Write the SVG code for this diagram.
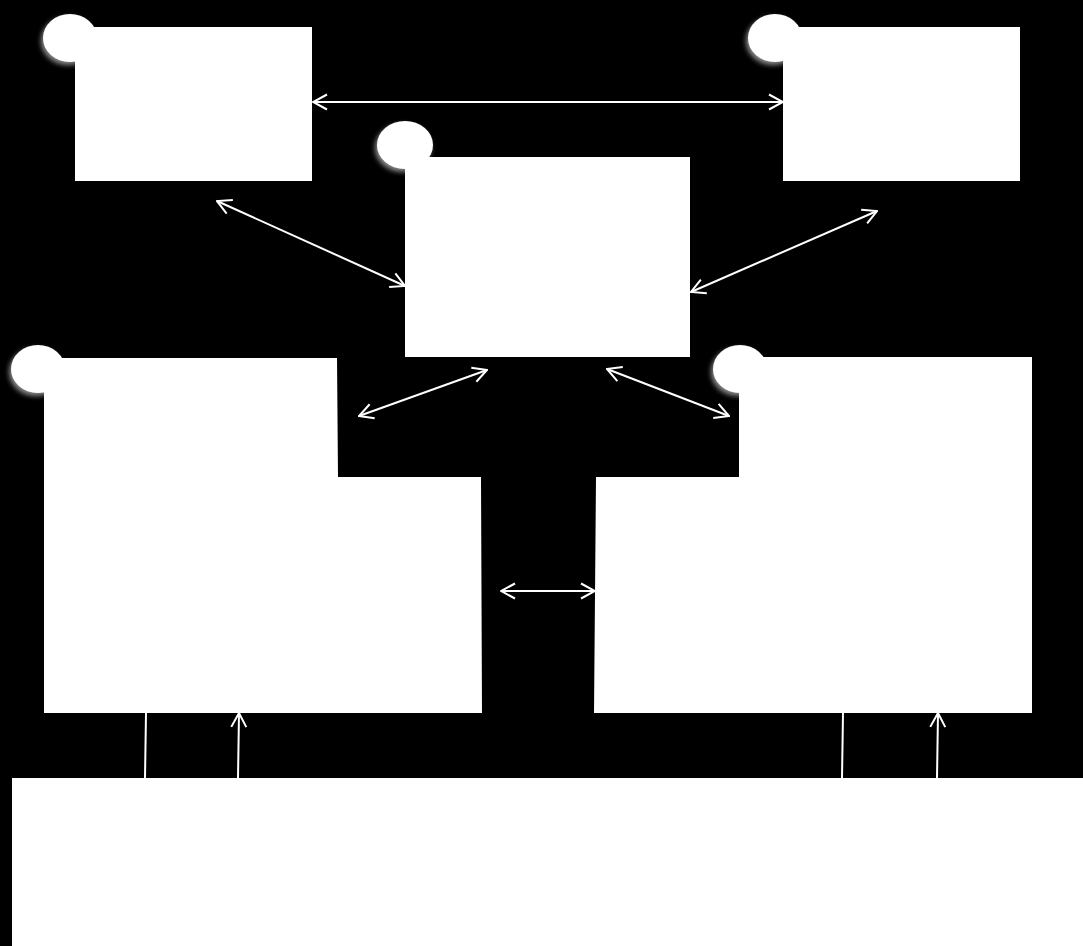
<svg xmlns="http://www.w3.org/2000/svg" width="1083" height="946" viewBox="0 0 1083 946">
<style>
.box{fill:#ffffff;stroke:none}
.badge{fill:#ffffff;filter:url(#glow)}
.conn{stroke:#ffffff;stroke-width:2;fill:none}
.head{marker-end:url(#arr)}
.both{marker-start:url(#arr);marker-end:url(#arr)}
</style>
<defs>
<filter id="glow" x="-40%" y="-40%" width="180%" height="180%">
<feDropShadow dx="-2" dy="3" stdDeviation="2.5" flood-color="#9a9a9a" flood-opacity="0.9"/>
</filter>
<marker id="arr" viewBox="0 0 16 18" refX="15" refY="9" markerWidth="16" markerHeight="18" markerUnits="userSpaceOnUse" orient="auto-start-reverse">
<path d="M1,1.5 L15,9 L1,16.5" fill="none" stroke="#ffffff" stroke-width="2"/>
</marker>
</defs>
<rect width="1083" height="946" fill="#000000"/>
<g id="node-top-left">
<ellipse class="badge" cx="70" cy="38" rx="27" ry="24"/>
<rect class="box" x="75" y="27" width="237" height="154"/>
</g>
<g id="node-top-right">
<ellipse class="badge" cx="775" cy="38" rx="27" ry="24"/>
<rect class="box" x="783" y="27" width="237" height="154"/>
</g>
<g id="node-center">
<ellipse class="badge" cx="405" cy="145" rx="28" ry="24"/>
<rect class="box" x="405" y="157" width="285" height="200"/>
</g>
<g id="node-left">
<ellipse class="badge" cx="38" cy="369" rx="27" ry="24"/>
<polygon class="box" points="44,358 337,358 338,477 481,477 482,713 44,713"/>
</g>
<g id="node-right">
<ellipse class="badge" cx="740" cy="369" rx="27" ry="24"/>
<polygon class="box" points="739,357 1032,357 1032,713 594,713 596,477 739,477"/>
</g>
<g id="node-bottom">
<rect class="box" x="12" y="778" width="1071" height="168"/>
</g>
<g id="connectors">
<line class="conn both" x1="313" y1="102" x2="783" y2="102"/>
<line class="conn both" x1="217" y1="201" x2="405" y2="286"/>
<line class="conn both" x1="691" y1="292" x2="877" y2="211"/>
<line class="conn both" x1="359" y1="416" x2="487" y2="370"/>
<line class="conn both" x1="607" y1="369" x2="729" y2="416"/>
<line class="conn both" x1="501" y1="591" x2="595" y2="591"/>
<line class="conn" x1="145" y1="778" x2="146" y2="713"/>
<line class="conn head" x1="238" y1="778" x2="239" y2="713"/>
<line class="conn" x1="842" y1="778" x2="843" y2="713"/>
<line class="conn head" x1="937" y1="778" x2="938" y2="713"/>
</g>
</svg>
